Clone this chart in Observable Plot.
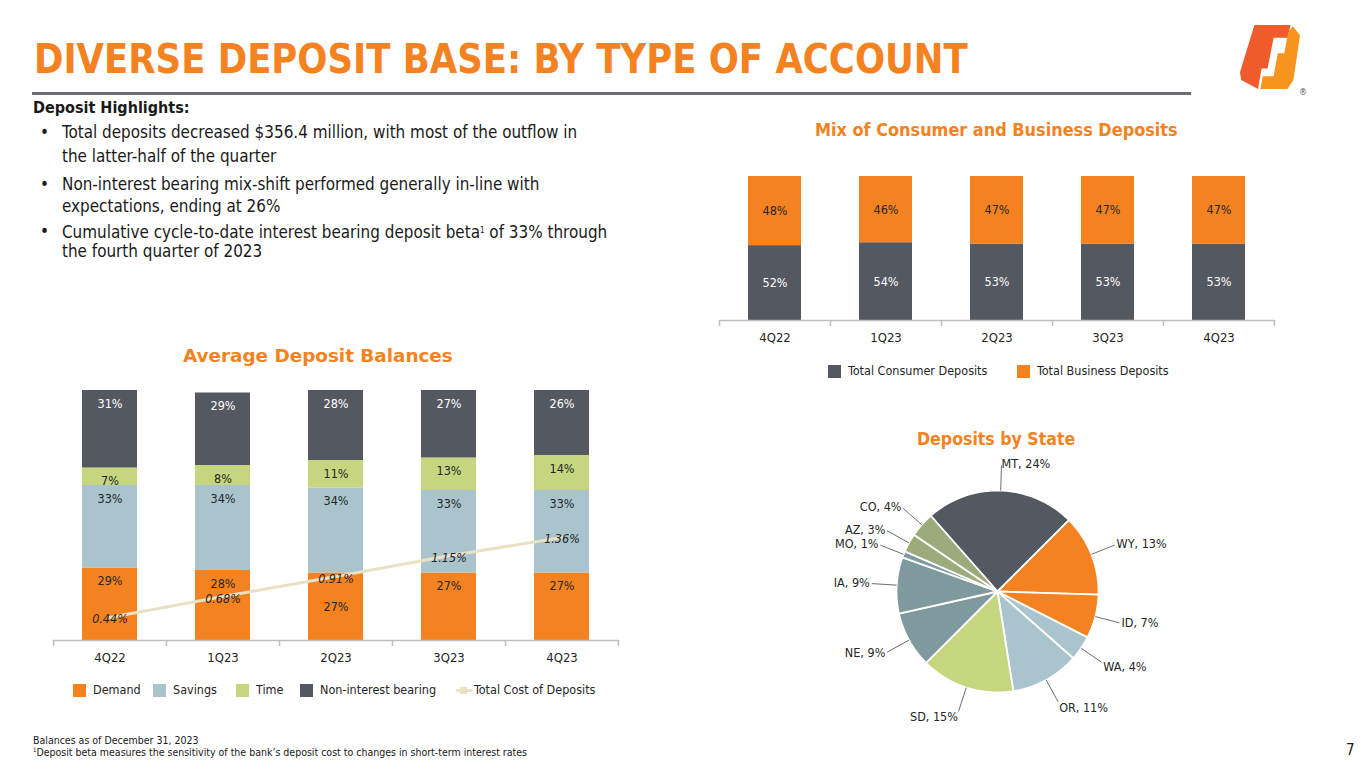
<!DOCTYPE html>
<html><head><meta charset="utf-8">
<script src="https://cdn.jsdelivr.net/npm/d3@7"></script>
<script src="https://cdn.jsdelivr.net/npm/@observablehq/plot@0.6"></script>
<style>
body{margin:0;background:#fff;}
#slide{position:relative;width:1365px;height:768px;overflow:hidden;font-family:"DejaVu Sans Condensed","DejaVu Sans",sans-serif;color:#1a1a1a;background:#fff;}
.abs{position:absolute;white-space:nowrap;}
.chart{position:absolute;}
.sw{position:absolute;width:13px;height:13px;}
</style></head><body><div id="slide"></div>
<script>
// ---------- data ----------
const quarters = ["4Q22","1Q23","2Q23","3Q23","4Q23"];
const depositTypes = ["Demand","Savings","Time","Non-interest bearing"];
const demand = [29,28,27,27,27];
const savings = [33,34,34,33,33];
const time = [7,8,11,13,14];
const nonInterest = [31,29,28,27,26];
const totalCost = [0.44,0.68,0.91,1.15,1.36];
const mixSeries = ["Total Consumer Deposits","Total Business Deposits"];
const consumer = [52,54,53,53,53];
const business = [48,46,47,47,47];
const states = ["MT","WY","ID","WA","OR","SD","NE","IA","MO","AZ","CO"];
const stateShares = [24,13,7,4,11,15,9,9,1,3,4];

// ---------- styles ----------
const ORANGE = "#f58220", DARK = "#545861", BLUE = "#a9c4cc", GREEN = "#c5d67f";
const typeColors = [ORANGE, BLUE, GREEN, DARK];
const mixColors = [DARK, ORANGE];
const stateColors = [DARK, ORANGE, ORANGE, BLUE, BLUE, GREEN, "#7f9a9e", "#7f9a9e", "#7f9a9e", "#9bab7b", "#9bab7b"];
const LINE = "#e9e1c6";
const FONT = '"DejaVu Sans Condensed","DejaVu Sans",sans-serif';
const TXT = "#262626";
const AXIS = "#bfbfbf";
const costAxis = [0.175, 3.05]; // secondary axis range mapped onto 0..100 %

const slide = document.getElementById("slide");
function place(text, x, base, size, o = {}) {
  const d = document.createElement("div");
  d.className = "abs";
  d.textContent = text;
  d.style.fontSize = size + "px";
  d.style.lineHeight = size + "px";
  d.style.left = x + "px";
  d.style.top = (base - 0.846 * size) + "px";
  if (o.bold) d.style.fontWeight = "bold";
  if (o.color) d.style.color = o.color;
  if (o.html) d.innerHTML = o.html;
  slide.appendChild(d);
  if (o.center) d.style.left = (x - d.offsetWidth / 2) + "px";
  if (o.fit) {
    const w = d.offsetWidth;
    d.style.transformOrigin = o.center ? "center" : "left";
    d.style.transform = `scaleX(${o.fit / w})`;
    if (o.center) d.style.left = (x - w / 2) + "px";
  }
  return d;
}

// ---------- header ----------
place("DIVERSE DEPOSIT BASE: BY TYPE OF ACCOUNT", 34, 73, 40, {bold: true, color: ORANGE, fit: 934});
const rule = document.createElement("div");
rule.style.cssText = "position:absolute;left:32px;top:92px;width:1159px;height:3px;background:#6d6e71;";
slide.appendChild(rule);

// logo
const logo = document.createElement("div");
logo.style.cssText = "position:absolute;left:1240px;top:25px;width:60px;height:64px;";
logo.innerHTML = `<svg width="60" height="64" viewBox="0 0 100 100" preserveAspectRatio="none">
<polygon points="24,0 84,0 80,20 56,20 46,68 36,68 30,100 2,86 0,74" fill="#ef5b2b"/>
<polygon points="88,2 100,16 89,86 79,100 34,100 38,80 56,80 63,44 74,44 80,12" fill="#f7941d"/>
</svg>`;
slide.appendChild(logo);
place("®", 1299, 96, 9, {color: "#555"});

// ---------- highlights text ----------
place("Deposit Highlights:", 33, 114, 15.5, {bold: true, fit: 157});
const bodySize = 14.5;
const lines = [
  ["•", "Total deposits decreased $356.4 million, with most of the outflow in", 138],
  ["", "the latter-half of the quarter", 162],
  ["•", "Non-interest bearing mix-shift performed generally in-line with", 190],
  ["", "expectations, ending at 26%", 212],
  ["•", "Cumulative cycle-to-date interest bearing deposit beta<sup style='font-size:8px;vertical-align:5px'>1</sup> of 33% through", 237],
  ["", "the fourth quarter of 2023", 257]
];
const probe = place(lines[0][1], 62, -100, bodySize);
const bs = bodySize * 516 / probe.offsetWidth;
probe.remove();
lines.forEach(([b, t, y]) => {
  if (b) place(b, 40, y, bs);
  place("", 62, y, bs, {html: t});
});

// ---------- footer ----------
place("Balances as of December 31, 2023", 33, 744, 10.5);
place("", 33, 754, 10.5, {html: "<sup style='font-size:6px;vertical-align:4px'>1</sup>Deposit beta measures the sensitivity of the bank’s deposit cost to changes in short-term interest rates"});
place("7", 1346, 756, 15);

// ---------- chart titles ----------
place("Average Deposit Balances", 318, 362, 18, {bold: true, color: ORANGE, center: true, fit: 270});
place("Mix of Consumer and Business Deposits", 996, 136, 18, {bold: true, color: ORANGE, center: true, fit: 363});
place("Deposits by State", 996, 445, 18, {bold: true, color: ORANGE, center: true, fit: 158});

// ---------- Average Deposit Balances ----------
const seriesByType = [demand, savings, time, nonInterest];
const avgRows = [];
quarters.forEach((q, i) => {
  let acc = 0;
  depositTypes.forEach((t, j) => {
    const v = seriesByType[j][i];
    avgRows.push({quarter: q, type: t, value: v, y1: acc, y2: acc + v});
    acc += v;
  });
});
const costRows = quarters.map((q, i) => ({
  quarter: q, cost: totalCost[i],
  yb: (totalCost[i] - costAxis[0]) / (costAxis[1] - costAxis[0]) * 100
}));
function avgLabelY(d) {
  if (d.quarter === "2Q23" && d.type === "Demand") return (d.y1 + d.y2) / 2;
  return d.y2 - 13 / 2.5;
}
{
  const W = 640, H = 290, ml = 53, mr = 22, mt = 10, mb = 30;
  const step = (W - ml - mr) / quarters.length;
  const pxPerUnit = (H - mt - mb) / 100;
  const ends = quarters.map((q, i) => ({q, dx: -step / 2}));
  ends.push({q: quarters[quarters.length - 1], dx: step / 2});
  const p = Plot.plot({
    width: W, height: H, marginLeft: ml, marginRight: mr, marginTop: mt, marginBottom: mb,
    x: {domain: quarters, paddingInner: 0.513, paddingOuter: 0.2565, label: null, tickSize: 0, tickPadding: 12},
    y: {domain: [0, 100], axis: null},
    color: {domain: depositTypes, range: typeColors},
    style: {fontFamily: FONT, fontSize: "13px", color: TXT, background: "transparent", overflow: "visible"},
    marks: [
      Plot.barY(avgRows, {x: "quarter", y1: "y1", y2: "y2", fill: "type"}),
      Plot.ruleY([0], {stroke: AXIS, strokeWidth: 1.5}),
      ...ends.map(e => Plot.ruleX([e.q], {x: d => d, dx: e.dx, y1: 0, y2: -6 / pxPerUnit, stroke: AXIS, strokeWidth: 1.5})),
      Plot.text(avgRows.filter(d => d.type !== "Non-interest bearing"), {x: "quarter", y: avgLabelY, text: d => d.value + "%", fill: TXT, fontSize: 12.5}),
      Plot.text(avgRows.filter(d => d.type === "Non-interest bearing"), {x: "quarter", y: avgLabelY, text: d => d.value + "%", fill: "white", fontSize: 12.5}),
      Plot.line(costRows, {x: "quarter", y: "yb", stroke: LINE, strokeWidth: 3}),
      Plot.text(costRows, {x: "quarter", y: "yb", dy: 2, text: d => d.cost.toFixed(2) + "%", fill: TXT, fontSize: 12.5, fontStyle: "italic"})
    ]
  });
  p.classList.add("chart");
  p.style.left = "0px"; p.style.top = "380px";
  slide.appendChild(p);
}
// legend for average balances
[[ORANGE, "Demand", 73], [BLUE, "Savings", 153], [GREEN, "Time", 236], [DARK, "Non-interest bearing", 300]].forEach(([c, t, x]) => {
  const s = document.createElement("div");
  s.className = "sw"; s.style.background = c; s.style.left = x + "px"; s.style.top = "684px";
  slide.appendChild(s);
  place(t, x + 20, 695, 12.5, {color: TXT});
});
{
  const l = document.createElement("div");
  l.style.cssText = `position:absolute;left:456px;top:689px;width:16px;height:3px;background:${LINE};`;
  slide.appendChild(l);
  const m = document.createElement("div");
  m.style.cssText = `position:absolute;left:460px;top:687px;width:7px;height:7px;background:${LINE};`;
  slide.appendChild(m);
  place("Total Cost of Deposits", 474, 695, 12.5, {color: TXT});
}

// ---------- Mix of Consumer and Business ----------
{
  const mixRows = [];
  quarters.forEach((q, i) => {
    mixRows.push({quarter: q, series: mixSeries[0], value: consumer[i], y1: 0, y2: consumer[i]});
    mixRows.push({quarter: q, series: mixSeries[1], value: business[i], y1: consumer[i], y2: consumer[i] + business[i]});
  });
  const W = 600, H = 190, ml = 29, mr = 16, mt = 16, mb = 30;
  const step = (W - ml - mr) / quarters.length;
  const pxPerUnit = (H - mt - mb) / 100;
  const ends = quarters.map(q => ({q, dx: -step / 2}));
  ends.push({q: quarters[quarters.length - 1], dx: step / 2});
  const p = Plot.plot({
    width: W, height: H, marginLeft: ml, marginRight: mr, marginTop: mt, marginBottom: mb,
    x: {domain: quarters, paddingInner: 0.52, paddingOuter: 0.26, label: null, tickSize: 0, tickPadding: 12},
    y: {domain: [0, 100], axis: null},
    color: {domain: mixSeries, range: mixColors},
    style: {fontFamily: FONT, fontSize: "13px", color: TXT, background: "transparent", overflow: "visible"},
    marks: [
      Plot.barY(mixRows, {x: "quarter", y1: "y1", y2: "y2", fill: "series"}),
      Plot.ruleY([0], {stroke: AXIS, strokeWidth: 1.5}),
      ...ends.map(e => Plot.ruleX([e.q], {x: d => d, dx: e.dx, y1: 0, y2: -6 / pxPerUnit, stroke: AXIS, strokeWidth: 1.5})),
      Plot.text(mixRows.filter(d => d.series === mixSeries[0]), {x: "quarter", y: d => (d.y1 + d.y2) / 2, text: d => d.value + "%", fill: "white", fontSize: 12.5}),
      Plot.text(mixRows.filter(d => d.series === mixSeries[1]), {x: "quarter", y: d => (d.y1 + d.y2) / 2, text: d => d.value + "%", fill: TXT, fontSize: 12.5})
    ]
  });
  p.classList.add("chart");
  p.style.left = "690px"; p.style.top = "160px";
  slide.appendChild(p);
}
[[DARK, mixSeries[0], 828], [ORANGE, mixSeries[1], 1017]].forEach(([c, t, x]) => {
  const s = document.createElement("div");
  s.className = "sw"; s.style.background = c; s.style.left = x + "px"; s.style.top = "365px";
  slide.appendChild(s);
  place(t, x + 20, 376, 12.5, {color: TXT});
});

// ---------- Deposits by State (pie) ----------
{
  const W = 420, H = 280, cx = 217, cy = 141, R = 101;
  const startDeg = -41.4;
  const stateRows = states.map((s, i) => ({state: s, share: stateShares[i]}));
  const a0 = startDeg * Math.PI / 180;
  const arcs = d3.pie().sort(null).value(d => d.share).startAngle(a0).endAngle(a0 + 2 * Math.PI)(stateRows);
  const px = (r, a) => cx + r * Math.sin(a), py = (r, a) => cy - r * Math.cos(a);
  const pts = [];
  arcs.forEach(a => {
    const s = a.data.state;
    pts.push({state: s, x: cx, y: cy});
    const n = Math.max(4, Math.ceil((a.endAngle - a.startAngle) / (Math.PI / 180)));
    for (let k = 0; k <= n; k++) {
      const t = a.startAngle + (a.endAngle - a.startAngle) * k / n;
      pts.push({state: s, x: px(R, t), y: py(R, t)});
    }
    pts.push({state: s, x: cx, y: cy});
  });
  const labs = arcs.map(a => {
    const m = (a.startAngle + a.endAngle) / 2;
    const right = Math.sin(m) >= 0;
    return {state: a.data.state, share: a.data.share, right,
      x1: px(R, m), y1: py(R, m), x2: px(R + 25, m), y2: py(R + 25, m),
      tx: px(R + 27, m), ty: py(R + 27, m) + (Math.cos(m) < -0.5 ? 4 : 0)};
  });
  const p = Plot.plot({
    width: W, height: H, margin: 0,
    x: {domain: [0, W], range: [0, W], axis: null},
    y: {domain: [0, H], range: [0, H], axis: null},
    color: {domain: states, range: stateColors},
    style: {fontFamily: FONT, fontSize: "12.5px", color: TXT, background: "transparent", overflow: "visible"},
    marks: [
      Plot.line(pts, {x: "x", y: "y", z: "state", fill: "state", stroke: "white", strokeWidth: 1.8, strokeLinejoin: "round", curve: "linear"}),
      Plot.link(labs, {x1: "x1", y1: "y1", x2: "x2", y2: "y2", stroke: "#6f6f6f", strokeWidth: 1}),
      Plot.text(labs.filter(d => d.right), {x: "tx", y: "ty", text: d => `${d.state}, ${d.share}%`, textAnchor: "start", fill: TXT, fontSize: 12.5}),
      Plot.text(labs.filter(d => !d.right), {x: "tx", y: "ty", text: d => `${d.state}, ${d.share}%`, textAnchor: "end", fill: TXT, fontSize: 12.5})
    ]
  });
  p.classList.add("chart");
  p.style.left = "780px"; p.style.top = "450px";
  slide.appendChild(p);
}
</script></body></html>
